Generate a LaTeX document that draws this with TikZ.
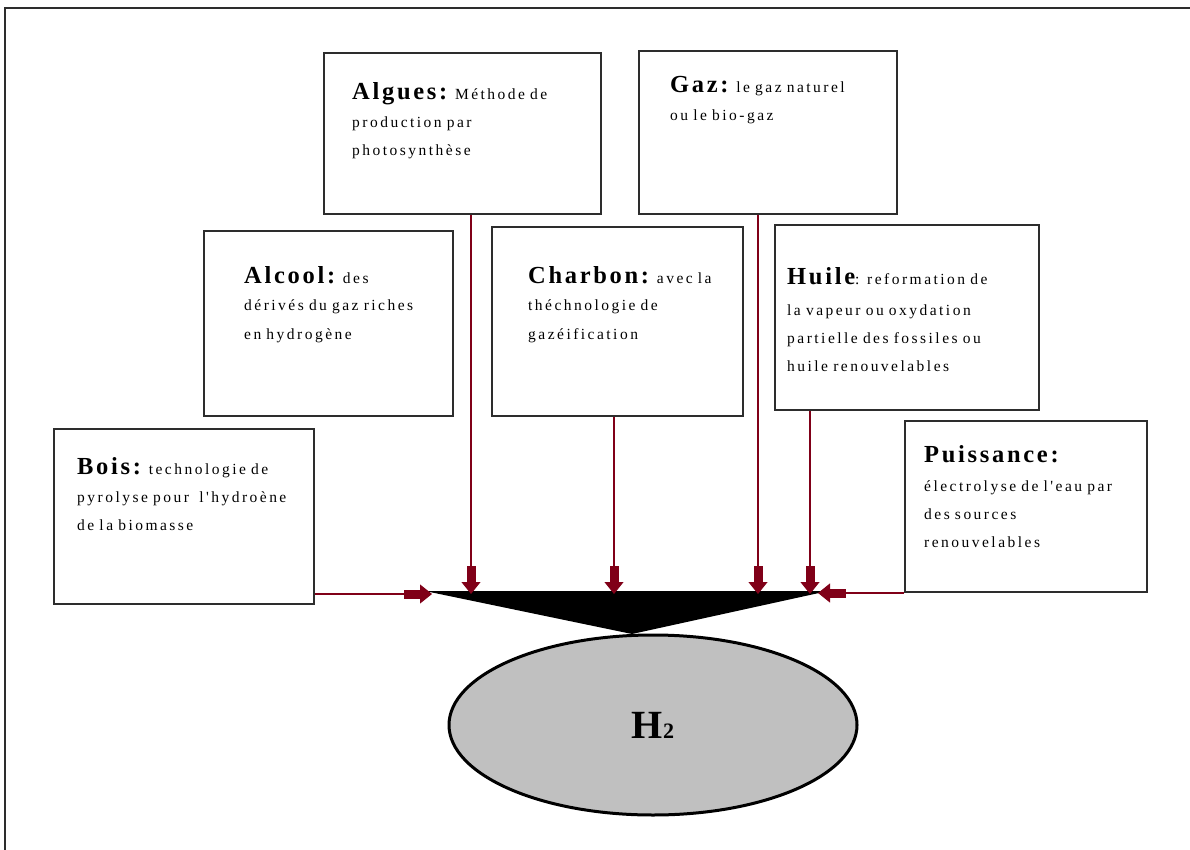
\documentclass[tikz,border=0pt]{standalone}
\usepackage{fontspec}
\setmainfont{Liberation Serif}
\usetikzlibrary{shapes.geometric}
\usetikzlibrary{arrows.meta}
\definecolor{feedred}{RGB}{128,0,24}
\definecolor{framegray}{RGB}{45,45,45}
\definecolor{hydrogray}{RGB}{192,192,192}
\newfontfamily\bodyfont[LetterSpace=16,WordSpace=1.6]{Liberation Serif}
\newfontfamily\headfont[LetterSpace=11]{Liberation Serif}
\newcommand{\srcTitle}[1]{{\headfont\bfseries\fontsize{24.5}{28}\selectfont #1}} % #1: source name

\begin{document}
\begin{tikzpicture}[
    x=1pt, y=-1pt,
    srcbox/.style={draw=framegray, line width=1.8pt, anchor=north west, inner sep=0pt},
    srctext/.style={anchor=base west, inner sep=0pt, text width=300pt, align=left,
        font=\bodyfont\fontsize{15.5}{28}\selectfont},
    feed/.style={feedred, line width=1.2pt,
        -{Rectangle[length=16pt,width=9pt] Triangle[length=12pt,width=19pt]}},
    hbubble/.style={ellipse, draw=black, fill=hydrogray, line width=3pt,
        minimum width=408pt, minimum height=180pt,
        font=\bfseries\fontsize{40}{40}\selectfont}
]
    \useasboundingbox (0,0) rectangle (1190,850);

    % Page frame
    \draw[framegray, line width=2pt] (5,850) -- (5,8.5) -- (1190,8.5);

    % Source boxes
    \node[srcbox, minimum width=277pt, minimum height=161pt] (algues) at (323,52) {};
    \node[srcbox, minimum width=258pt, minimum height=163pt] (gaz) at (638,50) {};
    \node[srcbox, minimum width=249pt, minimum height=185pt] (alcool) at (203,230) {};
    \node[srcbox, minimum width=251pt, minimum height=189pt] (charbon) at (491,226) {};
    \node[srcbox, minimum width=264pt, minimum height=185pt] (huile) at (774,224) {};
    \node[srcbox, minimum width=260pt, minimum height=175pt] (bois) at (53,428) {};
    \node[srcbox, minimum width=242pt, minimum height=171pt] (puiss) at (904,420) {};

    % Texts in the boxes
    \node[srctext] (algues-txt) at (352,100) {\srcTitle{Algues:} Méthode de\\production par\\photosynthèse};
    \node[srctext] (gaz-txt) at (670,93) {\srcTitle{Gaz:} le gaz naturel\\ou le bio-gaz};
    \node[srctext] (alcool-txt) at (244,283) {\srcTitle{Alcool:} des\\dérivés du gaz riches\\en hydrogène};
    \node[srctext] (charbon-txt) at (528,283) {\srcTitle{Charbon:} avec la\\théchnologie de\\gazéification};
    \node[srctext] (huile-txt) at (787,284) {\srcTitle{Huile}: reformation de\\[3pt]la vapeur ou oxydation\\partielle des fossiles ou\\huile renouvelables};
    \node[srctext] (bois-txt) at (77,474) {\srcTitle{Bois:} technologie de\\pyrolyse pour\ \ l'hydroène\\de la biomasse};
    \node[srctext] (puiss-txt) at (924,462) {\srcTitle{Puissance:}\\[1pt]électrolyse de l'eau par\\des sources\\renouvelables};

    % Collecting funnel and hydrogen
    \coordinate (cone-l) at (425,591);
    \coordinate (cone-r) at (828,591);
    \coordinate (cone-tip) at (632,634);
    \fill[black] (cone-l) -- (cone-r) -- (cone-tip) -- cycle;
    \node[hbubble] (h2) at (653,725) {H{\fontsize{22}{22}\selectfont 2}};

    % Arrow ends on the funnel
    \coordinate (in-algues) at (471,594);
    \coordinate (in-charbon) at (614,594);
    \coordinate (in-gaz) at (758,594);
    \coordinate (in-huile) at (810,594);
    \coordinate (in-bois) at (432,594);
    \coordinate (in-puiss) at (818,593);

    % Feeds into the funnel
    \draw[feed] (algues.south -| in-algues) -- (in-algues);
    \draw[feed] (charbon.south -| in-charbon) -- (in-charbon);
    \draw[feed] (gaz.south -| in-gaz) -- (in-gaz);
    \draw[feed] (huile.south -| in-huile) -- (in-huile);
    \draw[feed] (bois.east |- in-bois) -- (in-bois);
    \draw[feed] (puiss.west |- in-puiss) -- (in-puiss);

\end{tikzpicture}
\end{document}
